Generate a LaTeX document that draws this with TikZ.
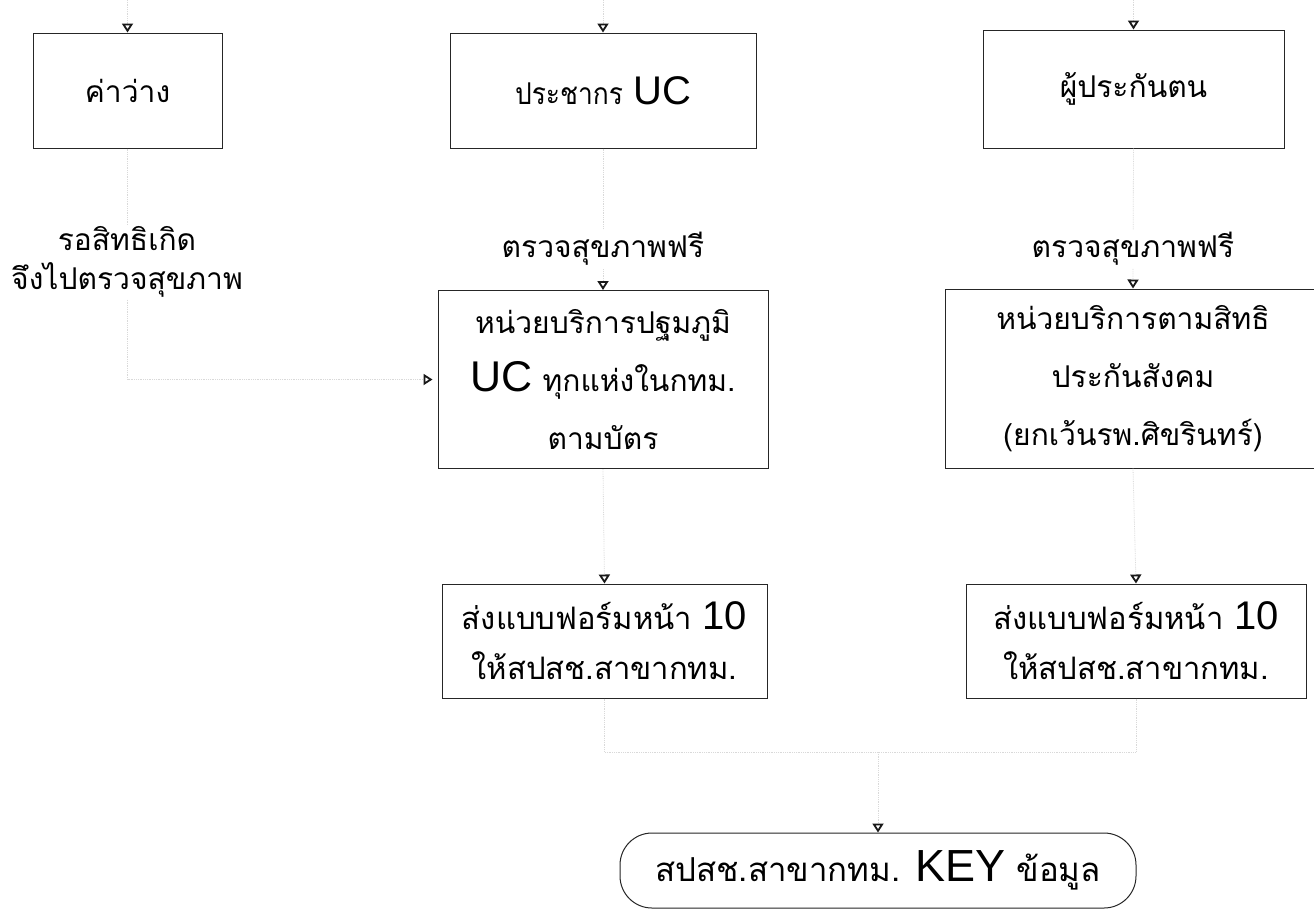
\documentclass[tikz,border=0pt]{standalone}
\usepackage{fontspec}
\setmainfont{Liberation Sans}
\newfontfamily\thaif[Script=Thai]{Loma}
\newfontfamily\arialf{Liberation Sans}
\newcommand\BigLat[2]{{\arialf\fontsize{#1}{58}\selectfont #2}}
\usetikzlibrary{arrows.meta,calc}
\begin{document}
\begin{tikzpicture}[x=1pt,y=-1pt,
  box/.style={draw=black!85,line width=1pt,rectangle,inner sep=0pt,align=center,font=\thaif\fontsize{30}{58}\selectfont},
  conn/.style={draw=black!15,densely dotted,line width=0.8pt,-{Triangle[open,length=9pt,width=11pt,line width=1.8pt,color=black!90]}},
  fconn/.style={draw=black!15,densely dotted,line width=0.8pt},
  lbl/.style={font=\thaif\fontsize{30}{39}\selectfont,align=center,fill=white,inner sep=2pt}]
\fill[white] (0,0) rectangle (1314,911);
\useasboundingbox (0,0) rectangle (1314,911);
% boxes
\node[box,minimum width=189,minimum height=115] (b1) at (127.5,90.5) {ค่าว่าง};
\node[box,minimum width=306,minimum height=115] (b2) at (603,90.5) {\scalebox{0.88}[1]{ประชากร} \BigLat{40}{UC}};
\node[box,minimum width=301,minimum height=118] (b3) at (1133.5,89) {ผู้ประกันตน};
\node[box,minimum width=330,minimum height=178] (b4) at (603,379.5) {หน่วยบริการปฐมภูมิ\\\BigLat{43}{UC} ทุกแห่งในกทม.\\ตามบัตร};
\node[box,minimum width=376,minimum height=179] (b5) at (1133,378.5) {หน่วยบริการตามสิทธิ\\ประกันสังคม\\(ยกเว้นรพ.ศิขรินทร์)};
\node[box,minimum width=325,minimum height=114,font=\thaif\fontsize{31}{50}\selectfont] (b6) at (604.5,641) {ส่งแบบฟอร์มหน้า \BigLat{40}{10}\\ให้สปสช.สาขากทม.};
\node[box,minimum width=340,minimum height=114,font=\thaif\fontsize{31}{50}\selectfont] (b7) at (1136,641) {ส่งแบบฟอร์มหน้า \BigLat{40}{10}\\ให้สปสช.สาขากทม.};
\node[box,rounded corners=32,minimum width=516,minimum height=75,font=\thaif\fontsize{33}{40}\selectfont] (b8) at (878,870.5) {สปสช.สาขากทม. \BigLat{45}{KEY} ข้อมูล};
% incoming from above
\coordinate (t1) at (127.5,0);
\coordinate (t2) at (603,0);
\coordinate (t3) at (1133.5,0);
\draw[conn] (t1) -- (b1.north);
\draw[conn] (t2) -- (b2.north);
\draw[conn] (t3) -- (b3.north);
% connectors
\draw[conn,shorten >=5pt] (b1.south) -- (b1.south |- b4.west) -- (b4.west);
\draw[conn] (b2.south) -- (b4.north);
\draw[conn] (b3.south) -- (b5.north);
\draw[conn] (b4.south) -- (b6.north);
\draw[conn] (b5.south) -- (b7.north);
\coordinate (j) at (878,752);
\draw[fconn] (b6.south) |- (j);
\draw[fconn] (b7.south) |- (j);
\draw[conn] (j) -- (b8.north);
% labels
\node[lbl] (l1) at (127,262) {รอสิทธิเกิด\\จึงไปตรวจสุขภาพ};
\node[lbl] (l2) at (603,249) {ตรวจสุขภาพฟรี};
\node[lbl] (l3) at (1133,249) {ตรวจสุขภาพฟรี};
\end{tikzpicture}
\end{document}
